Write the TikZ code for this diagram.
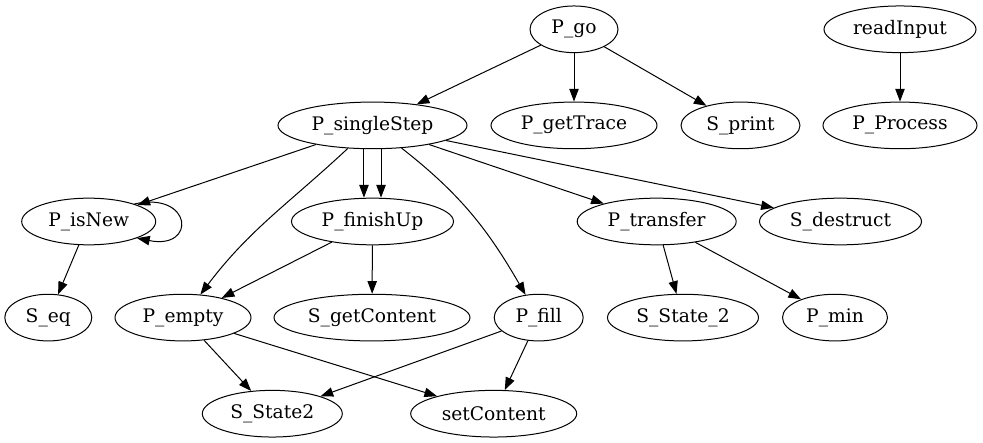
\documentclass[tikz,border=0pt]{standalone}
\usepackage{fontspec}
\setmainfont{DejaVu Serif}
\usetikzlibrary{shapes.geometric,arrows.meta}
\tikzset{
  nd/.style={ellipse, draw, line width=0.75pt, inner sep=0pt,
    minimum height=35pt, minimum width=#1*0.75pt, font=\fontsize{14pt}{16pt}\selectfont},
  ar/.style={line width=0.75pt, -{Triangle[length=9.5pt,width=7pt]}}
}
\begin{document}
\begin{tikzpicture}[x=0.75pt,y=0.75pt]
\useasboundingbox (0,0) rectangle (983,443);
% row 1
\node[nd=88]  (go)   at (574,413.7) {P\_go};
\node[nd=152] (ri)   at (900,413.7) {readInput};
% row 2
\node[nd=189] (ss)   at (372.5,317.6) {P\_singleStep};
\node[nd=166] (gt)   at (574,317.6) {P\_getTrace};
\node[nd=119] (sp)   at (740.5,317.6) {S\_print};
\node[nd=154] (pp)   at (900,317.6) {P\_Process};
% row 3
\node[nd=134] (isn)  at (88.7,221.5) {P\_isNew};
\node[nd=162] (fin)  at (372.5,221.5) {P\_finishUp};
\node[nd=159] (tr)   at (656.7,221.5) {P\_transfer};
\node[nd=162] (sd)   at (840.5,221.5) {S\_destruct};
% row 4
\node[nd=87]  (seq)  at (48.3,125.4) {S\_eq};
\node[nd=136] (emp)  at (183,125.4) {P\_empty};
\node[nd=196] (sgc)  at (372,125.4) {S\_getContent};
\node[nd=89]  (fill) at (538.7,125.4) {P\_fill};
\node[nd=151] (st2u) at (683,125.4) {S\_State\_2};
\node[nd=105] (min)  at (835,125.4) {P\_min};
% row 5
\node[nd=140] (st2)  at (272.3,29.3) {S\_State2};
\node[nd=166] (sc)   at (493.7,29.3) {setContent};
% edges
\draw[ar] (go) -- (ss);
\draw[ar] (go) -- (gt);
\draw[ar] (go) -- (sp);
\draw[ar] (ri) -- (pp);
\draw[ar] (ss) -- (isn);
\draw[ar] (ss) to[out=-137,in=53] (emp);
\draw[ar] ([xshift=-6.4pt]ss.south) -- ([xshift=-6.4pt]fin.north);
\draw[ar] ([xshift=6.4pt]ss.south) -- ([xshift=6.4pt]fin.north);
\draw[ar] (ss) to[out=-38,in=120] (fill);
\draw[ar] (ss) -- (tr);
\draw[ar] (ss) -- (sd);
\draw[ar] (isn.21) .. controls +(58,13) and +(60,-12) .. (isn.-19);
\draw[ar] (isn) -- (seq);
\draw[ar] (fin) -- (emp);
\draw[ar] (fin) -- (sgc);
\draw[ar] (tr) -- (st2u);
\draw[ar] (tr) -- (min);
\draw[ar] (emp) -- (st2);
\draw[ar] (emp) -- (sc);
\draw[ar] (fill) -- (st2);
\draw[ar] (fill) -- (sc);
\end{tikzpicture}
\end{document}
